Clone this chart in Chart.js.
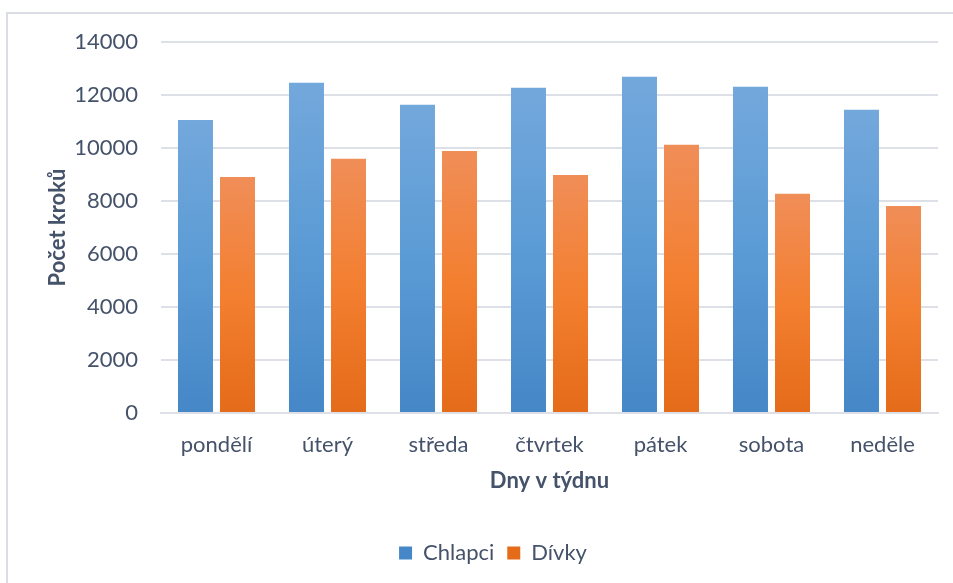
<!DOCTYPE html>
<html lang="cs">
<head>
<meta charset="utf-8">
<title>Počet kroků</title>
<script src="https://cdn.jsdelivr.net/npm/chart.js@4"></script>
<style>
  html, body { margin: 0; padding: 0; background: #fff; }
  #wrap { position: relative; width: 953px; height: 583px; }
</style>
</head>
<body>
<div id="wrap"><canvas id="steps" width="953" height="583"></canvas></div>
<script>
const days = ['pondělí', 'úterý', 'středa', 'čtvrtek', 'pátek', 'sobota', 'neděle'];
const chlapci = [11060, 12460, 11630, 12270, 12690, 12310, 11440];
const divky = [8910, 9590, 9890, 8980, 10120, 8270, 7810];
const yMin = 0;
const yMax = 14000;
const yStep = 2000;

const textColor = '#44526a';
const gridColor = '#dde1e7';
const fontFamily = 'Lato, "Open Sans", sans-serif';

// light top -> base -> darker bottom, one gradient per bar
function barFill(light, base, dark) {
  return function(context) {
    const chart = context.chart;
    const area = chart.chartArea;
    if (!area || context.type !== 'data') return base;
    const y = chart.scales.y;
    const top = y.getPixelForValue(context.raw);
    const bottom = y.getPixelForValue(0);
    if (!isFinite(top) || !isFinite(bottom) || top === bottom) return base;
    const g = chart.ctx.createLinearGradient(0, top, 0, bottom);
    g.addColorStop(0, light);
    g.addColorStop(0.5, base);
    g.addColorStop(1, dark);
    return g;
  };
}

// thin frame along the top and left edge
const frame = {
  id: 'frame',
  beforeDraw(chart) {
    const c = chart.ctx;
    c.save();
    c.strokeStyle = '#dadde3';
    c.lineWidth = 2;
    c.beginPath();
    c.moveTo(953, 13);
    c.lineTo(7, 13);
    c.lineTo(7, 583);
    c.stroke();
    c.restore();
  }
};

// center the legend under the plot rather than the canvas
const legendShift = {
  id: 'legendShift',
  afterLayout(chart) {
    const shift = 24;
    chart.legend.left += shift;
    chart.legend.right += shift;
  }
};

new Chart(document.getElementById('steps'), {
  type: 'bar',
  data: {
    labels: days,
    datasets: [{
      label: 'Chlapci',
      data: chlapci,
      backgroundColor: barFill('#73a8dc', '#5b9bd5', '#4587c7'),
      categoryPercentage: 0.757,
      barPercentage: 0.833
    }, {
      label: 'Dívky',
      data: divky,
      backgroundColor: barFill('#f08e58', '#f37f30', '#e46b19'),
      categoryPercentage: 0.757,
      barPercentage: 0.833
    }]
  },
  plugins: [frame, legendShift],
  options: {
    responsive: false,
    animation: false,
    devicePixelRatio: 1,
    layout: {
      padding: { top: 42, right: 15, bottom: 9, left: 0 }
    },
    plugins: {
      tooltip: { enabled: false },
      legend: {
        position: 'bottom',
        labels: {
          color: textColor,
          font: { family: fontFamily, size: 22 },
          boxWidth: 13,
          boxHeight: 13,
          padding: 13
        }
      }
    },
    scales: {
      x: {
        grid: { display: false, drawTicks: false },
        border: { color: gridColor, width: 2 },
        ticks: {
          color: textColor,
          font: { family: fontFamily, size: 22 },
          padding: 19,
          maxRotation: 0
        },
        title: {
          display: true,
          text: 'Dny v týdnu',
          color: textColor,
          font: { family: fontFamily, size: 22, weight: 'bold' },
          padding: { top: 0, bottom: 35 }
        },
        afterFit(scale) { scale.height = 116; }
      },
      y: {
        min: yMin,
        max: yMax,
        grid: { color: gridColor, lineWidth: 2, drawTicks: false },
        border: { display: false },
        ticks: {
          stepSize: yStep,
          color: textColor,
          font: { family: fontFamily, size: 22 },
          padding: 23,
          callback: (value) => String(value)
        },
        title: {
          display: true,
          text: 'Počet kroků',
          color: textColor,
          font: { family: fontFamily, size: 22, weight: 'bold' },
          padding: { top: 45, bottom: 0 }
        },
        afterFit(scale) { scale.width = 161; }
      }
    }
  }
});
</script>
</body>
</html>
